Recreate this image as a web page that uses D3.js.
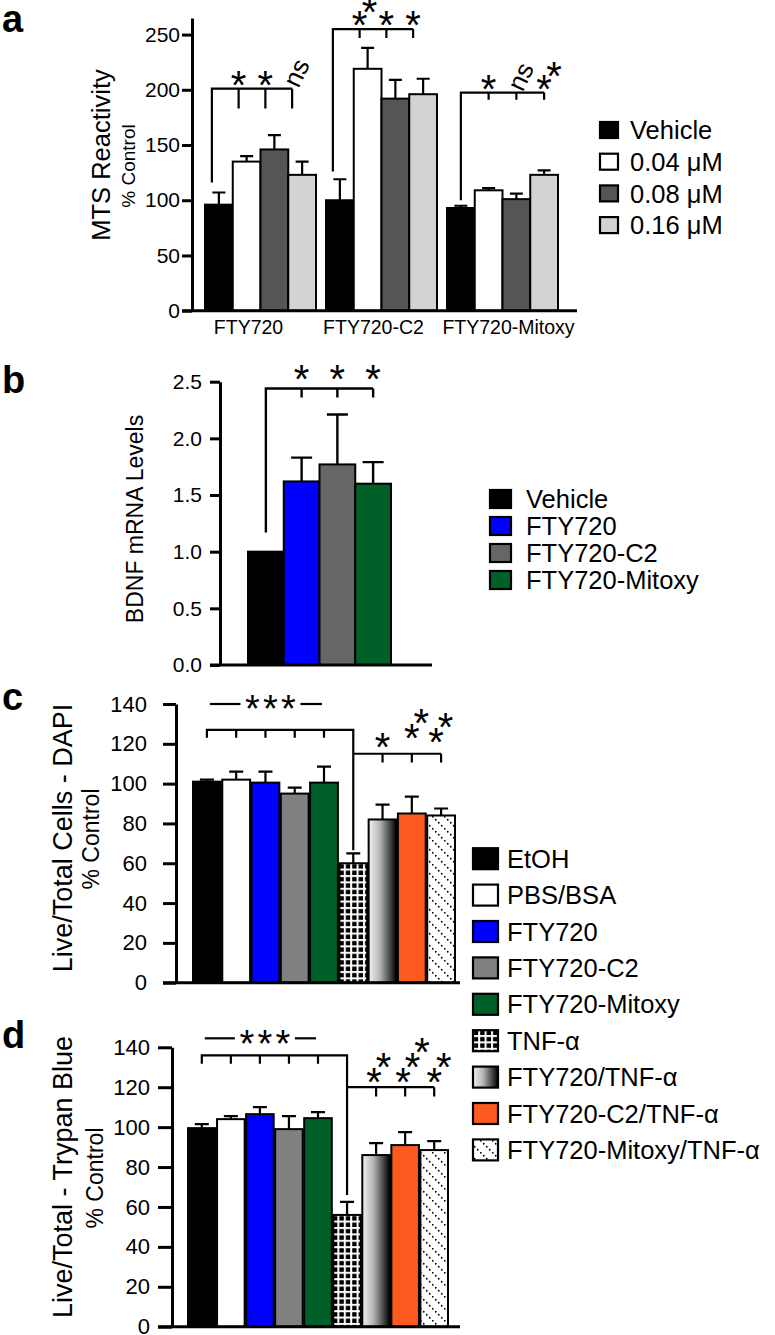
<!DOCTYPE html>
<html><head><meta charset="utf-8">
<script src="https://cdn.jsdelivr.net/npm/d3@7"></script>
<style>
body{margin:0;background:#fff;}
svg{display:block;}
</style></head><body>
<svg id="chart" width="775" height="1335"></svg>
<script>
// ---------------- DATA ----------------
// Panel a
const aGroups = ["FTY720", "FTY720-C2", "FTY720-Mitoxy"];
const aSeries = ["Vehicle", "0.04 μM", "0.08 μM", "0.16 μM"];
const aValues = [[96, 135, 146, 123], [100, 219, 192, 196], [93, 109, 101, 123]];
const aErrors = [[11, 5, 13, 12], [19, 19, 17, 14], [2, 2, 5, 4]];
const aTicks = [0, 50, 100, 150, 200, 250];
const aSig = [["*", "*", "ns"], ["**", "*", "*"], ["*", "ns", "**"]];
const aBracketBase = [116, 126, 100];
const aBracketTop = [201, 255, 197.5];
const aBracketTick = [183, 247, 191];

// Panel b
const bCats = ["Vehicle", "FTY720", "FTY720-C2", "FTY720-Mitoxy"];
const bValues = [1.0, 1.62, 1.77, 1.60];
const bErrors = [0, 0.21, 0.44, 0.19];
const bTicks = [0, 0.5, 1.0, 1.5, 2.0, 2.5];
const bSig = ["*", "*", "*"];

// Panels c & d
const cdCats = ["EtOH", "PBS/BSA", "FTY720", "FTY720-C2", "FTY720-Mitoxy", "TNF-α",
  "FTY720/TNF-α", "FTY720-C2/TNF-α", "FTY720-Mitoxy/TNF-α"];
const cValues = [101, 102, 100.5, 95, 100.5, 60, 82, 85, 84];
const cErrors = [1, 4, 5.5, 3, 8, 5, 7.5, 8.5, 3.5];
const dValues = [99.5, 104, 106.5, 99, 104.5, 56, 86, 91, 88.5];
const dErrors = [2, 1.5, 3.5, 6.5, 3, 6.5, 6, 6.5, 4.5];
const cdTicks = [0, 20, 40, 60, 80, 100, 120, 140];
const cSig = ["*", "**", "**"];
const dSig = ["**", "***", "**"];

// ---------------- SETUP ----------------
const FONT = "'Liberation Sans', Arial, Helvetica, sans-serif";
const svg = d3.select("#chart").attr("font-family", FONT);
const defs = svg.append("defs");

const pc = defs.append("pattern").attr("id", "checker").attr("patternUnits", "userSpaceOnUse")
  .attr("width", 6.4).attr("height", 6.4);
pc.append("rect").attr("width", 6.4).attr("height", 6.4).attr("fill", "#fff");
pc.append("rect").attr("x", 0.2).attr("y", 0.2).attr("width", 4.4).attr("height", 4.4).attr("fill", "#000");

const lg = defs.append("linearGradient").attr("id", "grad")
  .attr("x1", "0").attr("x2", "1").attr("y1", "0").attr("y2", "0");
lg.append("stop").attr("offset", "0").attr("stop-color", "#f2f2f2");
lg.append("stop").attr("offset", "0.4").attr("stop-color", "#b5b5b5");
lg.append("stop").attr("offset", "1").attr("stop-color", "#000");

const pd = defs.append("pattern").attr("id", "dots").attr("patternUnits", "userSpaceOnUse")
  .attr("width", 12).attr("height", 12);
pd.append("rect").attr("width", 12).attr("height", 12).attr("fill", "#fff");
[0.75, 3.75, 6.75, 9.75].forEach(t => pd.append("circle").attr("cx", t).attr("cy", t).attr("r", 0.9).attr("fill", "#000"));

function label(g, x, y, s, size, opts = {}) {
  const t = g.append("text").attr("x", x).attr("y", y).text(s)
    .attr("font-size", size).attr("fill", "#000")
    .attr("text-anchor", opts.anchor || "start");
  if (opts.weight) t.attr("font-weight", opts.weight);
  if (opts.dy) t.attr("dy", opts.dy);
  return t;
}
function rotLabel(g, x, y, s, size) {
  g.append("text").attr("transform", `translate(${x},${y}) rotate(-90)`)
    .attr("text-anchor", "middle").attr("font-size", size).attr("fill", "#000").text(s);
}
const STAR = 40;
function star(g, cx, cy, size = STAR) {
  g.append("text").attr("x", cx).attr("y", cy + 0.48 * size).attr("text-anchor", "middle")
    .attr("font-size", size).attr("fill", "#000").text("*");
}
function stars(g, cx, baseY, n, dx, dyStep) {
  for (let k = 0; k < n; k++) star(g, cx + k * dx, baseY - k * dyStep);
}
function ns(g, cx, cy, size) {
  g.append("text").attr("transform", `translate(${cx},${cy}) rotate(-65)`)
    .attr("text-anchor", "middle").attr("dy", "0.35em").attr("font-size", size).attr("fill", "#000").text("ns");
}
function yAxis(g, scale, x, ticks, fmt, tickSize, pad, fontSize, sw) {
  const ax = d3.axisLeft(scale).tickValues(ticks).tickFormat(fmt)
    .tickSize(tickSize).tickSizeOuter(0).tickPadding(pad);
  const gg = g.append("g").attr("transform", `translate(${x},0)`).call(ax)
    .attr("font-family", FONT).attr("font-size", fontSize);
  gg.select(".domain").attr("stroke", "#000").attr("stroke-width", sw);
  gg.selectAll(".tick line").attr("stroke", "#000").attr("stroke-width", sw);
  gg.selectAll(".tick text").attr("fill", "#000");
  return gg;
}
function hline(g, x1, x2, y, sw) {
  g.append("line").attr("x1", x1).attr("x2", x2).attr("y1", y).attr("y2", y)
    .attr("stroke", "#000").attr("stroke-width", sw);
}
function errBar(g, cx, y1, y2, cap, sw) {
  g.append("path").attr("d", `M${cx},${y1}V${y2}M${cx - cap / 2},${y2}H${cx + cap / 2}`)
    .attr("stroke", "#000").attr("stroke-width", sw).attr("fill", "none");
}
function legend(g, items, fill, x, y0, step, w, h, fs, tx) {
  items.forEach((d, i) => {
    const cy = y0 + i * step;
    g.append("rect").attr("x", x).attr("y", cy - h / 2).attr("width", w).attr("height", h)
      .attr("fill", fill(d, i)).attr("stroke", "#000").attr("stroke-width", 2.2);
    label(g, tx, cy, d, fs, { dy: "0.36em" });
  });
}
function pathStroke(g, d, sw) {
  g.append("path").attr("d", d).attr("fill", "none").attr("stroke", "#000").attr("stroke-width", sw);
}

// ---------------- PANEL A ----------------
{
  const g = svg.append("g");
  const y = d3.scaleLinear().domain([0, 265]).range([310.7, 18]);
  const x0 = d3.scaleBand().domain(aGroups).range([205, 558]).paddingInner(0.0826);
  const x1 = d3.scaleBand().domain(aSeries).range([0, x0.bandwidth()]);
  const col = d3.scaleOrdinal().domain(aSeries).range(["#000", "#fff", "#555", "#d3d3d3"]);
  const cx = (gi, si) => x0(aGroups[gi]) + x1(aSeries[si]) + x1.bandwidth() / 2;
  const shift = [-7, -7, 0];
  const bx = (gi, si) => cx(gi, si) + shift[gi] - (si * 1.0) * (gi < 2 ? 1 : 0);
  const labelShift = [-12, -8, 6];

  aGroups.forEach((grp, gi) => {
    aSeries.forEach((s, si) => {
      const v = aValues[gi][si], e = aErrors[gi][si];
      errBar(g, cx(gi, si), y(v), y(v + e), 13, 2.2);
      g.append("rect").attr("x", x0(grp) + x1(s)).attr("y", y(v))
        .attr("width", x1.bandwidth()).attr("height", y(0) - y(v))
        .attr("fill", col(s)).attr("stroke", "#000").attr("stroke-width", 2);
    });
    label(g, x0(grp) + x0.bandwidth() / 2 + labelShift[gi], 334, grp, 19.5, { anchor: "middle" });
    // bracket
    const top = y(aBracketTop[gi]);
    let d = `M${bx(gi, 0)},${y(aBracketBase[gi])}V${top}H${bx(gi, 3)}`;
    for (let j = 1; j < 4; j++) d += `M${bx(gi, j)},${top}V${y(aBracketTick[gi])}`;
    pathStroke(g, d, 2.2);
    aSig[gi].forEach((s, j) => {
      const tx = bx(gi, j + 1);
      if (s === "ns") ns(g, tx + 4, top - 16, 26);
      else stars(g, tx, top - 9, s.length, 10, 13);
    });
  });
  yAxis(g, y, 192, aTicks, d3.format("d"), 10, 2, 21, 3);
  hline(g, 182, 577, y(0), 3);
  rotLabel(g, 110, 155, "MTS Reactivity", 25.5);
  rotLabel(g, 135, 166, "% Control", 19);
  legend(g, aSeries, d => col(d), 600, 130, 31.7, 18, 16, 25.5, 630);
  label(g, 2, 32, "a", 38, { weight: "bold" });
}

// ---------------- PANEL B ----------------
{
  const g = svg.append("g");
  const y = d3.scaleLinear().domain([0, 2.5]).range([665, 381.7]);
  const x = d3.scaleBand().domain(bCats).range([248, 391]);
  const col = d3.scaleOrdinal().domain(bCats).range(["#000", "#0000ff", "#666666", "#006028"]);
  const cx = i => x(bCats[i]) + x.bandwidth() / 2;
  bCats.forEach((c, i) => {
    const v = bValues[i], e = bErrors[i];
    if (e > 0) errBar(g, cx(i), y(v), y(v + e), 21, 2.4);
    g.append("rect").attr("x", x(c)).attr("y", y(v)).attr("width", x.bandwidth())
      .attr("height", y(0) - y(v)).attr("fill", col(c)).attr("stroke", "#000").attr("stroke-width", 2);
  });
  const top = y(2.44);
  let d = `M${cx(0)},${y(1.17)}V${top}H${cx(3)}`;
  for (let j = 1; j < 4; j++) d += `M${cx(j)},${top}V${y(2.36)}`;
  pathStroke(g, d, 2.4);
  bSig.forEach((s, j) => stars(g, cx(j + 1), top - 15, s.length, 10, 13));
  yAxis(g, y, 220, bTicks, d3.format(".1f"), 10, 8, 21, 3);
  hline(g, 210, 432, y(0), 3);
  rotLabel(g, 143, 519, "BDNF mRNA Levels", 23);
  legend(g, bCats, d => col(d), 490, 499, 27, 21, 18, 25.5, 526);
  label(g, 2, 393, "b", 38, { weight: "bold" });
}

// ---------------- PANELS C & D ----------------
const cdFills = ["#000", "#fff", "#0000ff", "#808080", "#005f28", "url(#checker)", "url(#grad)", "#fc5a1e", "url(#dots)"];
function panelCD(cfg) {
  const g = svg.append("g");
  const y = d3.scaleLinear().domain([0, 140]).range(cfg.yRange);
  const x = d3.scaleBand().domain(cdCats).range(cfg.xRange).paddingInner(0.05);
  const cx = i => x(cdCats[i]) + x.bandwidth() / 2;
  cdCats.forEach((c, i) => {
    const v = cfg.values[i], e = cfg.errors[i];
    errBar(g, cx(i), y(v), y(v + e), 14, 2.2);
    g.append("rect").attr("x", x(c)).attr("y", y(v)).attr("width", x.bandwidth())
      .attr("height", y(0) - y(v)).attr("fill", cdFills[i]).attr("stroke", "#000").attr("stroke-width", 2);
  });
  // top "—***—"
  const ty = y(cfg.topLine);
  const mid = (cx(0) + cx(4)) / 2 + 5;
  hline(g, cx(0) + 3, mid - 30, ty, 2.2);
  hline(g, mid + 30, cx(4) - 2, ty, 2.2);
  [-18, 0, 18].forEach(o => star(g, mid + o, ty, 38));
  // bracket 1
  const b1 = y(cfg.br1);
  let d = `M${cx(0)},${y(cfg.br1Tick)}V${b1}H${cx(5)}V${y(cfg.vEnd)}`;
  for (let j = 1; j < 5; j++) d += `M${cx(j)},${b1}V${y(cfg.br1Tick)}`;
  pathStroke(g, d, 2.2);
  // bracket 2
  const b2 = y(cfg.br2);
  let d2 = `M${cx(5)},${b2}H${cx(8)}`;
  for (let j = 6; j < 9; j++) d2 += `M${cx(j)},${b2}V${y(cfg.br2Tick)}`;
  pathStroke(g, d2, 2.2);
  cfg.sig.forEach((s, j) => stars(g, cx(j + 6) + cfg.starDx[j], b2 + cfg.starBase[j], s.length, 9.5, 15));
  yAxis(g, y, cfg.axisX, cdTicks, d3.format("d"), cfg.tickSize, cfg.pad, 22, 3);
  hline(g, cfg.axisX - cfg.tickSize, 460, y(0), 3);
  rotLabel(g, 72, cfg.labelY, cfg.title, 27);
  rotLabel(g, cfg.subX, cfg.labelY + 1, "% Control", 23);
  label(g, 2, cfg.letterY, cfg.letter, 38, { weight: "bold" });
}
panelCD({
  values: cValues, errors: cErrors, sig: cSig, yRange: [982.7, 704], xRange: [193, 455],
  topLine: 140, br1: 127, br1Tick: 123, vEnd: 66.5, br2: 115, br2Tick: 110.6,
  starBase: [-12, -21, -17], starDx: [0, 0, -5],
  axisX: 176, tickSize: 13, pad: 16, title: "Live/Total Cells - DAPI", labelY: 838, subX: 99,
  letter: "c", letterY: 710
});
panelCD({
  values: dValues, errors: dErrors, sig: dSig, yRange: [1326.7, 1047.3], xRange: [188, 448],
  topLine: 144.5, br1: 136, br1Tick: 131.8, vEnd: 66, br2: 120, br2Tick: 115.3,
  starBase: [-10, -10, -10], starDx: [-2, -2, 0],
  axisX: 172, tickSize: 14, pad: 8, title: "Live/Total - Trypan Blue", labelY: 1177, subX: 103,
  letter: "d", letterY: 1048
});
// shared legend for c & d
legend(svg.append("g"), cdCats, (d, i) => cdFills[i], 473, 858.7, 36.4, 25, 21, 25.5, 507);
</script>
</body></html>
